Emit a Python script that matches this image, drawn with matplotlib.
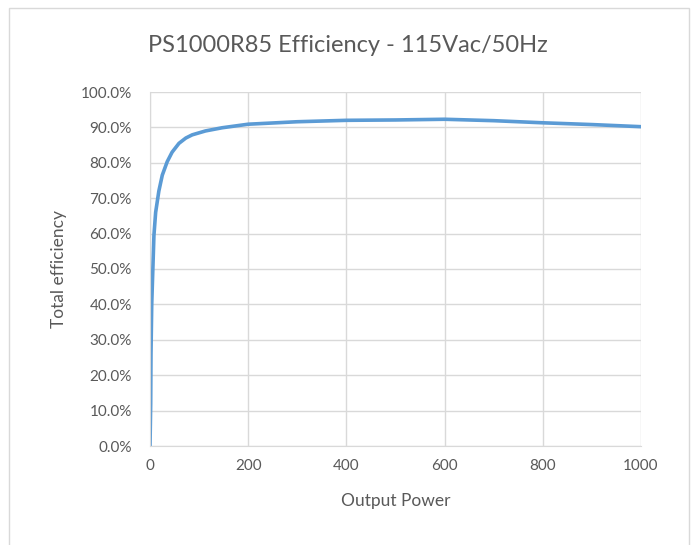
import matplotlib
matplotlib.use('Agg')
import matplotlib.pyplot as plt
from matplotlib.patches import Rectangle
from matplotlib.ticker import FuncFormatter

# output power (W) and total efficiency (%)
power = [0, 1.4, 2, 3.5, 8, 11.5, 18, 25, 35, 45, 59, 73, 86, 113, 147, 200,
         300, 400, 500, 600, 700, 800, 900, 1000]
efficiency = [0, 12, 26, 40, 59.5, 66, 72, 76.5, 80.3, 83, 85.5, 87, 87.9, 89, 89.9, 90.9,
              91.6, 92.0, 92.1, 92.3, 91.9, 91.3, 90.8, 90.2]

plt.rcParams['font.family'] = ['Lato', 'DejaVu Sans']

fig = plt.figure(figsize=(6.96, 5.45), dpi=100)
ax = fig.add_axes([150/696, 99/545, 491/696, 354/545])

ax.plot(power, efficiency, color='#5b9bd5', linewidth=2.6,
        solid_capstyle='round', solid_joinstyle='round')

ax.set_xlim(0, 1000)
ax.set_ylim(0, 100)
ax.set_xticks(range(0, 1001, 200))
ax.set_yticks(range(0, 101, 10))
ax.yaxis.set_major_formatter(FuncFormatter(lambda v, p: '%.1f%%' % v))
ax.grid(True, color='#d9d9d9', linewidth=1)
ax.set_axisbelow(True)
for s in ['top', 'right']:
    ax.spines[s].set_visible(False)
for s in ['bottom', 'left']:
    ax.spines[s].set_color('#d9d9d9')
ax.tick_params(length=0, labelsize=11, colors='#595959')
ax.tick_params(axis='y', pad=13)
ax.tick_params(axis='x', pad=9)

ax.set_xlabel('Output Power', fontsize=12.5, color='#595959', labelpad=15)
ax.set_ylabel('Total efficiency', fontsize=12.5, color='#595959', labelpad=10)
fig.text(0.5, 1 - 45/545, 'PS1000R85 Efficiency - 115Vac/50Hz', ha='center', va='center',
         fontsize=17, color='#595959')

# chart border
fig.patches.append(Rectangle((9/696, -0.01), 680/696, 1 - 8/545 + 0.01, transform=fig.transFigure,
                             fill=False, edgecolor='#d9d9d9', linewidth=1))

fig.savefig('out.png', dpi=100)
